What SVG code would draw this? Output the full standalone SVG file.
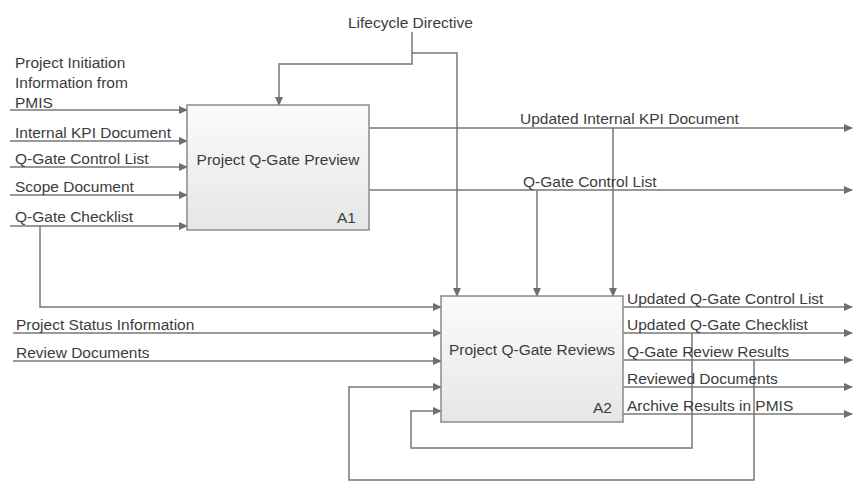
<svg xmlns="http://www.w3.org/2000/svg" width="862" height="496" viewBox="0 0 862 496">
<style>
.t{font-family:"Liberation Sans",Arial,sans-serif;font-size:15.5px;fill:#3c3c3c}
.c{fill:none;stroke:#777;stroke-width:1.5}
.box{stroke:#8a8a8a;stroke-width:1.5;fill:url(#g)}
</style>
<defs>
<linearGradient id="g" x1="0" y1="0" x2="0" y2="1">
<stop offset="0" stop-color="#fbfbfb"/>
<stop offset="1" stop-color="#e6e6e6"/>
</linearGradient>
<marker id="a" markerWidth="9" markerHeight="8" refX="8" refY="4" orient="auto" markerUnits="userSpaceOnUse">
<path d="M0,0 L9,4 L0,8 z" fill="#6f6f6f"/>
</marker>
</defs>
<rect width="862" height="496" fill="#fff"/>
<g id="connectors">
<path class="c" d="M10,110 H187" marker-end="url(#a)"/>
<path class="c" d="M10,141 H187" marker-end="url(#a)"/>
<path class="c" d="M10,167 H187" marker-end="url(#a)"/>
<path class="c" d="M10,195 H187" marker-end="url(#a)"/>
<path class="c" d="M10,226 H187" marker-end="url(#a)"/>
<path class="c" d="M40,226 V307 H441" marker-end="url(#a)"/>
<path class="c" d="M412,32 V64 H279 V105" marker-end="url(#a)"/>
<path class="c" d="M412,53 H457 V296" marker-end="url(#a)"/>
<path class="c" d="M369,128 H852" marker-end="url(#a)"/>
<path class="c" d="M613,128 V296" marker-end="url(#a)"/>
<path class="c" d="M369,190 H852" marker-end="url(#a)"/>
<path class="c" d="M537,190 V296" marker-end="url(#a)"/>
<path class="c" d="M13,333 H441" marker-end="url(#a)"/>
<path class="c" d="M13,361 H441" marker-end="url(#a)"/>
<path class="c" d="M623,307 H852" marker-end="url(#a)"/>
<path class="c" d="M623,333 H852" marker-end="url(#a)"/>
<path class="c" d="M623,360 H852" marker-end="url(#a)"/>
<path class="c" d="M623,387 H852" marker-end="url(#a)"/>
<path class="c" d="M623,414 H852" marker-end="url(#a)"/>
<path class="c" d="M692,333 V448 H411 V411 H441" marker-end="url(#a)"/>
<path class="c" d="M754,360 V480 H349 V387 H441" marker-end="url(#a)"/>
</g>
<g id="labels">
<text class="t" x="348" y="28">Lifecycle Directive</text>
<text class="t" x="15" y="68">Project Initiation</text>
<text class="t" x="15" y="88">Information from</text>
<text class="t" x="15" y="108">PMIS</text>
<text class="t" x="15" y="138">Internal KPI Document</text>
<text class="t" x="15" y="164">Q-Gate Control List</text>
<text class="t" x="15" y="192">Scope Document</text>
<text class="t" x="15" y="222">Q-Gate Checklist</text>
<text class="t" x="16" y="330">Project Status Information</text>
<text class="t" x="16" y="358">Review Documents</text>
<text class="t" x="520" y="124">Updated Internal KPI Document</text>
<text class="t" x="523" y="187">Q-Gate Control List</text>
<text class="t" x="627" y="304">Updated Q-Gate Control List</text>
<text class="t" x="627" y="330">Updated Q-Gate Checklist</text>
<text class="t" x="627" y="357">Q-Gate Review Results</text>
<text class="t" x="627" y="384">Reviewed Documents</text>
<text class="t" x="627" y="411">Archive Results in PMIS</text>
</g>
<g id="A1">
<rect class="box" x="187" y="105" width="182" height="125"/>
<text class="t" x="278" y="165" text-anchor="middle">Project Q-Gate Preview</text>
<text class="t" x="356" y="223" text-anchor="end">A1</text>
</g>
<g id="A2">
<rect class="box" x="441" y="296" width="182" height="126"/>
<text class="t" x="532" y="355" text-anchor="middle">Project Q-Gate Reviews</text>
<text class="t" x="612" y="413" text-anchor="end">A2</text>
</g>
</svg>
